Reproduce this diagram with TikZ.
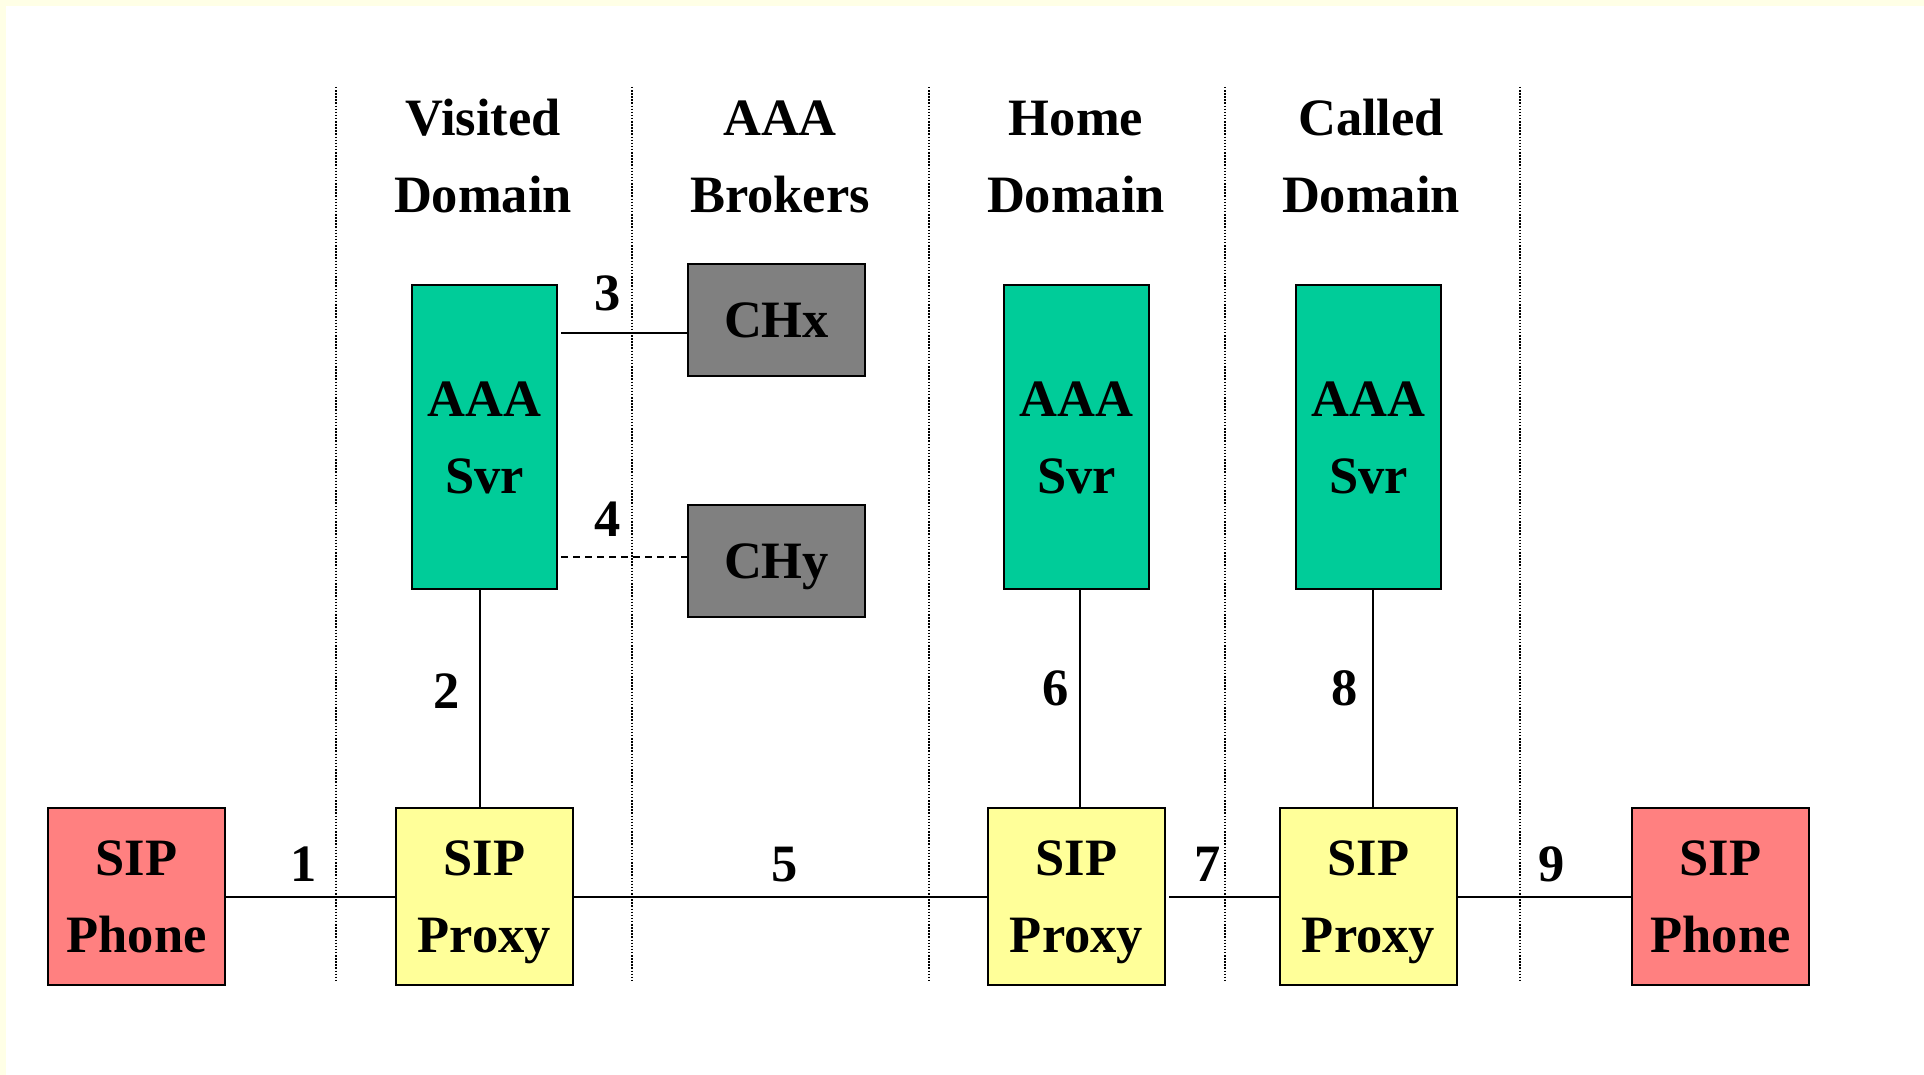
\documentclass[tikz,border=0pt]{standalone}
\usepackage{fontspec}
\setmainfont{Liberation Serif}
\definecolor{phonecol}{RGB}{255,128,128}
\definecolor{proxycol}{RGB}{255,255,153}
\definecolor{aaacol}{RGB}{0,204,153}
\definecolor{chcol}{RGB}{128,128,128}
\definecolor{bandcol}{RGB}{255,255,230}
\begin{document}
\begin{tikzpicture}[x=1pt,y=-1pt,
  every node/.style={font=\fontsize{52.5pt}{77pt}\selectfont\bfseries, inner sep=0pt},
  box/.style={draw=black, line width=2.5pt, minimum width=177pt, minimum height=177pt,
              align=center, text height=112pt, text depth=0pt},
  phone/.style={box, fill=phonecol},
  proxy/.style={box, fill=proxycol},
  aaa/.style={box, fill=aaacol, minimum width=145pt, minimum height=304pt},
  ch/.style={box, fill=chcol, minimum height=112pt, text height=35pt, text depth=0pt},
  conn/.style={line width=2pt},
  divider/.style={line width=1.6pt, dash pattern=on 1.5pt off 1.6pt},
  num/.style={anchor=base},
  head/.style={anchor=base, align=center}]
\useasboundingbox (0,0) rectangle (1924,1075);
\fill[white] (0,0) rectangle (1924,1075);
\fill[bandcol] (0,0) rectangle (1924,6);
\fill[bandcol] (0,0) rectangle (6,1075);

% domain dividers
\foreach \x/\n in {336/d1,632/d2,929/d3,1225/d4,1520/d5}{
  \coordinate (\n t) at (\x,87);
  \coordinate (\n b) at (\x,982);
  \draw[divider] (\n t) -- (\n b);
}

% headers (base = baseline of the last line)
\node[head] (hvis) at (483,213) {Visited\\Domain};
\node[head] (hbro) at (780,213) {AAA\\Brokers};
\node[head] (hhom) at (1076,213) {Home\\Domain};
\node[head] (hcal) at (1371,213) {Called\\Domain};

% boxes
\node[phone] (ph1) at (136.5,896.5) {SIP\\Phone};
\node[proxy] (px1) at (484.5,896.5) {SIP\\Proxy};
\node[proxy] (px2) at (1076.5,896.5) {SIP\\Proxy};
\node[proxy] (px3) at (1368.5,896.5) {SIP\\Proxy};
\node[phone] (ph2) at (1720.5,896.5) {SIP\\Phone};
\node[aaa] (aaa1) at (484.5,437) {AAA\\Svr};
\node[aaa] (aaa2) at (1076.5,437) {AAA\\Svr};
\node[aaa] (aaa3) at (1368.5,437) {AAA\\Svr};
\node[ch] (chx) at (776.5,320) {CHx};
\node[ch] (chy) at (776.5,561) {CHy};

% connectors
\coordinate (y3) at (0,333);
\coordinate (y4) at (0,557);
\draw[conn] (ph1.east) -- (px1.west);
\draw[conn] (px1.east) -- (px2.west);
\draw[conn] ([xshift=3pt]px2.east) -- (px3.west);
\draw[conn] (px3.east) -- (ph2.west);
\draw[conn] ([xshift=-4.5pt]aaa1.south) -- ([xshift=-4.5pt]px1.north);
\draw[conn] ([xshift=3.5pt]aaa2.south) -- ([xshift=3.5pt]px2.north);
\draw[conn] ([xshift=4.5pt]aaa3.south) -- ([xshift=4.5pt]px3.north);
\draw[conn] ([xshift=3pt]aaa1.east |- y3) -- (chx.west |- y3);
\draw[conn, dash pattern=on 7pt off 5pt] ([xshift=3pt]aaa1.east |- y4) -- (chy.west |- y4);

% connector labels
\node[num] (n1) at (304,881) {1};
\node[num] (n2) at (447,708) {2};
\node[num] (n3) at (608,310) {3};
\node[num] (n4) at (608,536) {4};
\node[num] (n5) at (785,881) {5};
\node[num] (n6) at (1056,705) {6};
\node[num] (n7) at (1208,881) {7};
\node[num] (n8) at (1345,705) {8};
\node[num] (n9) at (1552,881) {9};
\end{tikzpicture}
\end{document}
